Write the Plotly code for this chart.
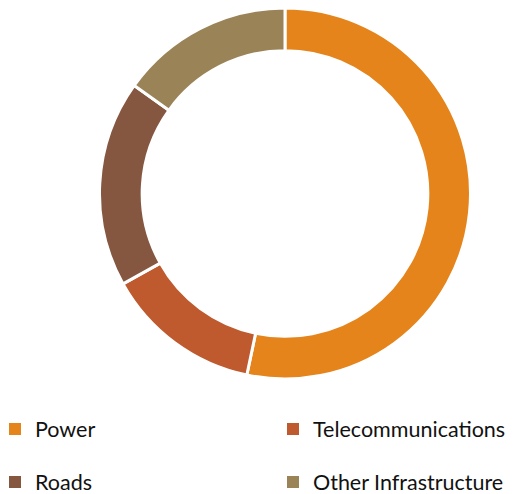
import plotly.graph_objects as go

labels = ["Power", "Telecommunications", "Roads", "Other Infrastructure"]
values = [53.3, 13.6, 18.0, 15.1]
colors = ["#E5841A", "#BE5A2E", "#855640", "#9B8358"]
legend_ids = ["legend", "legend2", "legend3", "legend4"]

W, H = 527, 494
OFF = 8  # page body margin

fig = go.Figure()
fig.add_trace(go.Pie(
    labels=labels, values=values, sort=False, direction="clockwise", rotation=0,
    hole=0.77, marker=dict(colors=colors, line=dict(color="white", width=3)),
    textinfo="none", hoverinfo="label+value",
    domain=dict(x=[(99 - OFF) / W, (471 - OFF) / W], y=[(H - (379 - OFF)) / H, 1.0]),
    showlegend=False,
))
# legend entries (tiny pies) each in its own legend so the 2x2 grid can be placed
for i, lab in enumerate(labels):
    fig.add_trace(go.Pie(
        labels=[lab], values=[values[i]], marker=dict(colors=[colors[i]]),
        textinfo="none", domain=dict(x=[0, 0.0005], y=[0, 0.0005]), hole=0.99,
        legend=legend_ids[i], showlegend=True, hoverinfo="skip",
    ))

font = dict(family="Lato, Carlito, Calibri, sans-serif", size=21.5, color="#111111")
common = dict(orientation="v", xanchor="left", yanchor="middle",
              font=font, itemwidth=30, bgcolor="rgba(0,0,0,0)")
col_x = [(15 - OFF - 20) / W, (293 - OFF - 20) / W]
row_y = [1 - (429 - OFF) / H, 1 - (482 - OFF) / H]
fig.update_layout(
    width=W, height=H, margin=dict(l=0, r=0, t=0, b=0, autoexpand=False),
    paper_bgcolor="white", plot_bgcolor="white",
    legend=dict(x=col_x[0], y=row_y[0], **common),
    legend2=dict(x=col_x[1], y=row_y[0], **common),
    legend3=dict(x=col_x[0], y=row_y[1], **common),
    legend4=dict(x=col_x[1], y=row_y[1], **common),
)
fig.write_html("out.html")
